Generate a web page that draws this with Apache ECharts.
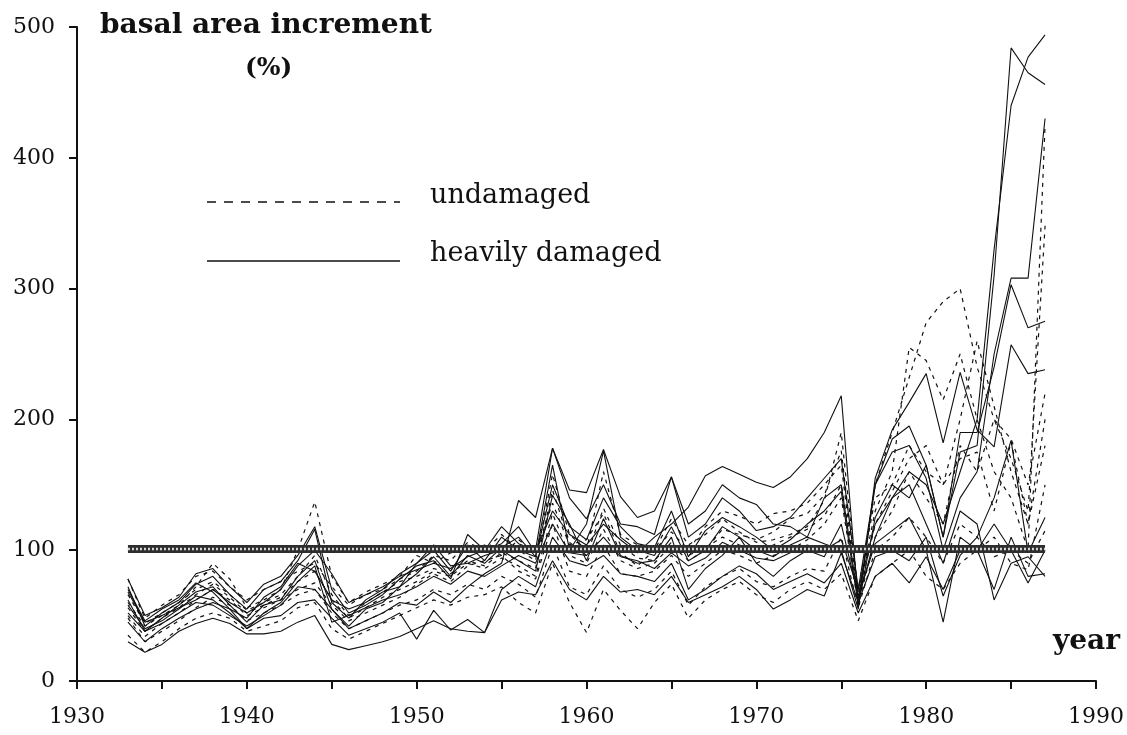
<!DOCTYPE html>
<html>
<head>
<meta charset="utf-8">
<title>basal area increment</title>
<script src="https://cdn.jsdelivr.net/npm/echarts@6/dist/echarts.min.js"></script>
<style>
  html, body { margin: 0; padding: 0; background: #fff; }
  .chart { width: 1127px; height: 735px; }
</style>
</head>
<body>
<div class="chart"></div>
<script>
// years of the tree-ring series
var years = [
  1933, 1934, 1935, 1936, 1937, 1938, 1939, 1940, 1941, 1942,
  1943, 1944, 1945, 1946, 1947, 1948, 1949, 1950, 1951, 1952,
  1953, 1954, 1955, 1956, 1957, 1958, 1959, 1960, 1961, 1962,
  1963, 1964, 1965, 1966, 1967, 1968, 1969, 1970, 1971, 1972,
  1973, 1974, 1975, 1976, 1977, 1978, 1979, 1980, 1981, 1982,
  1983, 1984, 1985, 1986, 1987
];

// heavily damaged trees (solid lines), basal area increment in %
var damaged1 = [72, 42, 52, 60, 74, 80, 66, 55, 70, 76, 92, 116, 60, 48, 62, 70, 82, 90, 100, 84, 104, 92, 110, 100, 95, 165, 100, 120, 176, 110, 100, 96, 118, 92, 100, 118, 110, 100, 95, 104, 110, 140, 150, 62, 110, 140, 160, 150, 120, 160, 200, 330, 440, 477, 494];
var damaged2 = [62, 38, 48, 58, 68, 72, 58, 45, 58, 62, 80, 92, 55, 42, 55, 60, 72, 82, 95, 80, 96, 90, 102, 110, 95, 150, 118, 108, 140, 118, 105, 102, 130, 95, 115, 125, 118, 110, 100, 108, 120, 130, 145, 58, 125, 150, 140, 165, 110, 175, 180, 310, 484, 465, 456];
var damaged3 = [78, 50, 56, 64, 82, 86, 72, 60, 74, 80, 96, 118, 70, 52, 58, 66, 78, 88, 92, 78, 112, 100, 118, 105, 100, 178, 140, 124, 150, 120, 118, 112, 156, 110, 120, 140, 130, 115, 118, 125, 140, 155, 170, 70, 150, 175, 180, 155, 100, 140, 160, 250, 308, 308, 430];
var damaged4 = [68, 45, 50, 56, 62, 70, 60, 52, 60, 70, 88, 100, 82, 60, 66, 72, 80, 85, 90, 86, 95, 100, 105, 118, 98, 130, 112, 104, 120, 108, 98, 110, 120, 133, 157, 164, 158, 152, 148, 156, 170, 190, 218, 60, 150, 185, 195, 165, 110, 190, 190, 240, 303, 270, 275];
var damaged5 = [52, 38, 44, 52, 60, 58, 50, 42, 50, 58, 72, 70, 55, 40, 46, 52, 60, 58, 68, 60, 72, 82, 90, 138, 125, 178, 146, 144, 177, 141, 125, 130, 156, 120, 130, 150, 140, 135, 120, 118, 110, 105, 100, 55, 155, 192, 213, 235, 182, 236, 192, 179, 257, 235, 238];
var damaged6 = [30, 22, 28, 38, 44, 48, 44, 36, 36, 38, 45, 50, 28, 24, 27, 30, 34, 40, 46, 40, 38, 37, 62, 68, 66, 92, 70, 62, 80, 68, 70, 66, 80, 60, 66, 72, 80, 70, 55, 62, 70, 65, 98, 60, 95, 100, 92, 110, 65, 96, 110, 140, 184, 98, 125];
var damaged7 = [45, 30, 40, 48, 55, 60, 55, 40, 48, 50, 60, 62, 48, 35, 40, 45, 52, 32, 54, 39, 47, 37, 70, 80, 72, 110, 92, 88, 96, 82, 80, 76, 90, 62, 70, 80, 88, 82, 70, 76, 82, 75, 90, 52, 80, 90, 75, 95, 70, 100, 100, 70, 110, 80, 82];
var damaged8 = [70, 46, 55, 62, 75, 68, 55, 48, 64, 72, 90, 84, 62, 55, 60, 68, 72, 90, 104, 88, 90, 96, 100, 92, 84, 142, 120, 92, 124, 96, 90, 92, 110, 70, 86, 96, 110, 90, 80, 92, 100, 95, 120, 65, 105, 115, 125, 100, 45, 110, 100, 120, 100, 75, 100];
var damaged9 = [58, 40, 46, 55, 65, 62, 52, 40, 52, 60, 76, 88, 45, 50, 56, 62, 66, 72, 80, 74, 84, 80, 88, 96, 90, 120, 98, 96, 110, 95, 92, 86, 98, 88, 94, 106, 100, 94, 92, 98, 104, 100, 108, 70, 120, 140, 150, 120, 90, 130, 120, 62, 90, 95, 80];

// undamaged trees (dashed lines)
var undamaged1 = [60, 42, 50, 58, 72, 90, 78, 56, 62, 70, 100, 137, 80, 60, 68, 74, 80, 96, 90, 98, 100, 104, 96, 108, 98, 136, 104, 108, 128, 98, 88, 100, 114, 100, 118, 130, 126, 120, 128, 130, 136, 150, 165, 62, 150, 190, 232, 274, 290, 300, 240, 200, 185, 150, 220];
var undamaged2 = [78, 48, 58, 66, 80, 84, 72, 62, 70, 76, 84, 90, 72, 58, 66, 70, 78, 84, 96, 92, 106, 100, 112, 100, 92, 158, 112, 100, 160, 112, 104, 100, 124, 104, 112, 124, 114, 106, 108, 112, 118, 138, 190, 66, 130, 160, 255, 245, 215, 250, 200, 160, 140, 100, 425];
var undamaged3 = [50, 34, 44, 52, 62, 70, 62, 50, 56, 62, 70, 75, 58, 46, 52, 58, 64, 74, 82, 76, 88, 92, 96, 84, 78, 120, 84, 80, 104, 82, 80, 84, 96, 80, 90, 100, 96, 90, 96, 100, 108, 120, 140, 58, 110, 130, 160, 140, 120, 180, 160, 200, 170, 130, 348];
var undamaged4 = [35, 22, 30, 40, 48, 52, 48, 38, 42, 46, 56, 60, 40, 32, 38, 44, 50, 56, 62, 58, 64, 66, 72, 60, 52, 90, 60, 37, 70, 54, 40, 60, 74, 48, 62, 70, 76, 66, 60, 70, 76, 70, 82, 46, 80, 90, 100, 80, 70, 90, 100, 110, 90, 85, 150];
var undamaged5 = [66, 44, 52, 60, 70, 76, 66, 54, 60, 66, 80, 96, 66, 50, 60, 68, 76, 80, 86, 82, 92, 88, 98, 92, 86, 146, 106, 96, 132, 104, 94, 92, 106, 96, 102, 110, 104, 100, 104, 110, 116, 126, 150, 70, 140, 150, 180, 160, 150, 170, 175, 130, 183, 120, 180];
var undamaged6 = [56, 38, 48, 56, 66, 74, 64, 52, 58, 64, 76, 84, 62, 48, 56, 64, 70, 76, 84, 80, 90, 86, 94, 88, 80, 128, 96, 90, 116, 92, 86, 90, 104, 92, 100, 116, 112, 108, 114, 124, 128, 142, 176, 64, 120, 145, 170, 180, 150, 200, 260, 210, 160, 120, 200];
var undamaged7 = [48, 30, 38, 46, 56, 64, 58, 46, 52, 58, 66, 70, 52, 40, 46, 52, 58, 62, 70, 66, 74, 70, 80, 74, 64, 104, 72, 66, 88, 70, 64, 70, 84, 58, 72, 80, 86, 76, 72, 80, 86, 84, 110, 56, 100, 110, 125, 110, 90, 120, 110, 95, 100, 90, 115];

// 100 % reference level and its span
var refLevel = 101;
var refYears = [1933, 1987];

var xTicks = [1930, 1940, 1950, 1960, 1970, 1980, 1990];

var damagedSets = [damaged1, damaged2, damaged3, damaged4, damaged5, damaged6, damaged7, damaged8, damaged9];
var undamagedSets = [undamaged1, undamaged2, undamaged3, undamaged4, undamaged5, undamaged6, undamaged7];

var serif = '"DejaVu Serif", "Liberation Serif", serif';

function pairs(values) {
  return values.map(function(v, i) {
    return [years[i], v];
  });
}

function lineSeries(values, dashed) {
  return {
    type: 'line',
    data: pairs(values),
    symbol: 'none',
    silent: true,
    animation: false,
    lineStyle: {
      color: '#111',
      width: dashed ? 1.2 : 1.1,
      type: dashed ? [4, 5] : 'solid'
    },
    z: 2
  };
}

var series = [];
undamagedSets.forEach(function(d) { series.push(lineSeries(d, true)); });
damagedSets.forEach(function(d) { series.push(lineSeries(d, false)); });

// thick hatched band at 100 %
var refData = refYears.map(function(y) { return [y, refLevel]; });
series.push({
  type: 'line', data: refData, symbol: 'none', silent: true, animation: false,
  lineStyle: { color: '#2e2e2e', width: 8 }, z: 5
});
series.push({
  type: 'line', data: refData, symbol: 'none', silent: true, animation: false,
  lineStyle: { color: '#d8d8d8', width: 2.5, type: [2, 2] }, z: 6
});

var chart = echarts.init(document.querySelector('.chart'));

chart.setOption({
  animation: false,
  grid: { left: 77, right: 31, top: 27, bottom: 54 },
  xAxis: {
    type: 'value',
    min: 1930,
    max: 1990,
    interval: 5,
    splitLine: { show: false },
    axisLine: { onZero: false, lineStyle: { color: '#111', width: 2 } },
    axisTick: { length: 8, lineStyle: { color: '#111', width: 2 } },
    axisLabel: {
      margin: 25,
      color: '#111',
      fontFamily: serif,
      fontSize: 22,
      formatter: function(v) {
        return xTicks.indexOf(v) >= 0 ? String(v) : '';
      }
    }
  },
  yAxis: {
    type: 'value',
    min: 0,
    max: 500,
    interval: 100,
    splitLine: { show: false },
    axisLine: { show: true, lineStyle: { color: '#111', width: 2 } },
    axisTick: { show: true, length: 8, lineStyle: { color: '#111', width: 2 } },
    axisLabel: {
      margin: 22,
      color: '#111',
      fontFamily: serif,
      fontSize: 22
    }
  },
  graphic: [
    // axis titles
    { type: 'text', left: 100, top: 12, style: { text: 'basal area increment', font: 'bold 28px ' + serif, fill: '#111' } },
    { type: 'text', left: 245, top: 56, style: { text: '(%)', font: 'bold 25px ' + serif, fill: '#111' } },
    { type: 'text', left: 1053, top: 628, style: { text: 'year', font: 'bold 28px ' + serif, fill: '#111' } },
    // legend
    { type: 'line', shape: { x1: 207, y1: 202, x2: 400, y2: 202 }, style: { stroke: '#111', lineWidth: 1.6, lineDash: [9, 8] } },
    { type: 'text', left: 430, top: 182, style: { text: 'undamaged', font: '27px ' + serif, fill: '#111' } },
    { type: 'line', shape: { x1: 207, y1: 261, x2: 400, y2: 261 }, style: { stroke: '#111', lineWidth: 1.4 } },
    { type: 'text', left: 430, top: 240, style: { text: 'heavily damaged', font: '27px ' + serif, fill: '#111' } }
  ],
  series: series
});
</script>
</body>
</html>
